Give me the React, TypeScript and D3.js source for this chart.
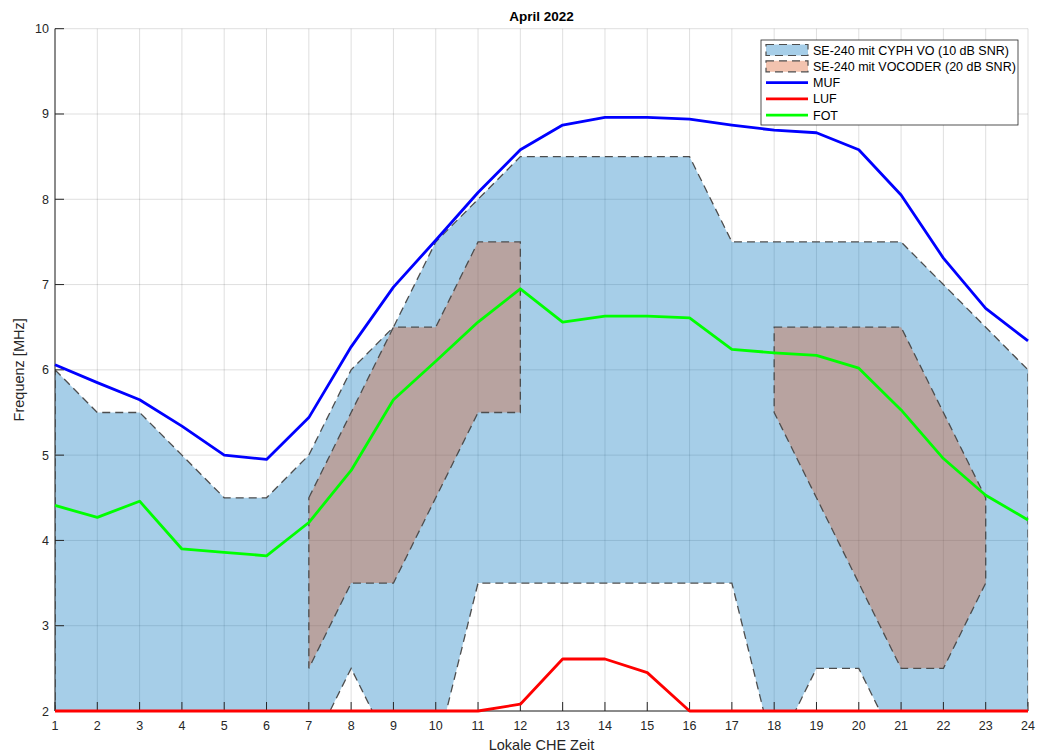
import * as d3 from "d3";

// Stunden (lokale CHE Zeit)
const HOURS = [1, 2, 3, 4, 5, 6, 7, 8, 9, 10, 11, 12, 13, 14, 15, 16, 17, 18, 19, 20, 21, 22, 23, 24];
const Y_TICKS = [2, 3, 4, 5, 6, 7, 8, 9, 10];

// SE-240 mit CYPH VO (10 dB SNR): obere / untere Grenze
const CYPH_UPPER = [6, 5.5, 5.5, 5, 4.5, 4.5, 5, 6, 6.5, 7.5, 8, 8.5, 8.5, 8.5, 8.5, 8.5, 7.5, 7.5, 7.5, 7.5, 7.5, 7, 6.5, 6];
const CYPH_LOWER = [1.5, 1.5, 1.5, 1.5, 1.5, 1.5, 1.5, 2.5, 1.5, 1.5, 3.5, 3.5, 3.5, 3.5, 3.5, 3.5, 3.5, 1.5, 2.5, 2.5, 1.5, 1.5, 1.5, 1.5];

// SE-240 mit VOCODER (20 dB SNR): zwei Bereiche
const VOC1_HOURS = [7, 8, 9, 10, 11, 12];
const VOC1_UPPER = [4.5, 5.5, 6.5, 6.5, 7.5, 7.5];
const VOC1_LOWER = [2.5, 3.5, 3.5, 4.5, 5.5, 5.5];
const VOC2_HOURS = [18, 19, 20, 21, 22, 23];
const VOC2_UPPER = [6.5, 6.5, 6.5, 6.5, 5.5, 4.5];
const VOC2_LOWER = [5.5, 4.5, 3.5, 2.5, 2.5, 3.5];

const MUF = [6.06, 5.85, 5.65, 5.34, 5.0, 4.95, 5.44, 6.27, 6.97, 7.52, 8.08, 8.58, 8.87, 8.96, 8.96, 8.94, 8.87, 8.81, 8.78, 8.58, 8.05, 7.31, 6.72, 6.34];
const LUF = [2, 2, 2, 2, 2, 2, 2, 2, 2, 2, 2, 2.08, 2.61, 2.61, 2.45, 2, 2, 2, 2, 2, 2, 2, 2, 2];
const FOT = [4.41, 4.27, 4.46, 3.9, 3.86, 3.82, 4.21, 4.82, 5.65, 6.1, 6.56, 6.95, 6.56, 6.63, 6.63, 6.61, 6.24, 6.2, 6.17, 6.02, 5.53, 4.96, 4.53, 4.24];

const LINES = [
  { label: "MUF", values: MUF, color: "#0000ff" },
  { label: "LUF", values: LUF, color: "#ff0000" },
  { label: "FOT", values: FOT, color: "#00ff00" },
];

const PATCHES = [
  { label: "SE-240 mit CYPH VO (10 dB SNR)", color: "#0072bd" },
  { label: "SE-240 mit VOCODER (20 dB SNR)", color: "#d95319" },
];

const W = 1038;
const H = 752;
const FONT = "'Liberation Sans', Arial, Helvetica, sans-serif";
const AXIS = "#262626";
const EDGE = "#4d4d4d";

export default function App() {
  const margin = { left: 55, right: 10, top: 28.7, bottom: 41 };
  const x = d3.scaleLinear().domain([1, 24]).range([margin.left, W - margin.right]);
  const y = d3.scaleLinear().domain([2, 10]).range([H - margin.bottom, margin.top]);
  const [x0, x1] = x.range();
  const [yb, yt] = y.range();

  const band = (hours: number[], upper: number[], lower: number[]) => {
    const pts: [number, number][] = [
      ...hours.map((h, i) => [x(h), y(upper[i])] as [number, number]),
      ...hours.map((h, i) => [x(h), y(lower[i])] as [number, number]).reverse(),
    ];
    return (d3.line()(pts) as string) + "Z";
  };

  const line = d3
    .line<number>()
    .x((_, i) => x(HOURS[i]))
    .y((d) => y(d));

  const legendX = 761;
  const legendY = 40;
  const rowH = 16.3;

  return (
    <svg width={W} height={H} style={{ position: "absolute", left: 0, top: 0, background: "#fff" }} fontFamily={FONT}>
      <defs>
        <clipPath id="plot">
          <rect x={x0} y={yt} width={x1 - x0} height={yb - yt} />
        </clipPath>
      </defs>
      <rect width={W} height={H} fill="#fff" />

      {/* grid */}
      <g stroke="#262626" strokeOpacity={0.15} strokeWidth={1}>
        {HOURS.map((h) => (
          <line key={"gx" + h} x1={x(h)} x2={x(h)} y1={yt} y2={yb} />
        ))}
        {Y_TICKS.map((t) => (
          <line key={"gy" + t} x1={x0} x2={x1} y1={y(t)} y2={y(t)} />
        ))}
      </g>

      {/* Bereiche */}
      <g clipPath="url(#plot)" stroke={EDGE} strokeWidth={1.3} strokeDasharray="8,5">
        <path d={band(HOURS, CYPH_UPPER, CYPH_LOWER)} fill={PATCHES[0].color} fillOpacity={0.35} />
        <path d={band(VOC1_HOURS, VOC1_UPPER, VOC1_LOWER)} fill={PATCHES[1].color} fillOpacity={0.35} />
        <path d={band(VOC2_HOURS, VOC2_UPPER, VOC2_LOWER)} fill={PATCHES[1].color} fillOpacity={0.35} />
      </g>

      {/* axes */}
      <g stroke={AXIS} strokeWidth={1}>
        <line x1={x0} x2={x0} y1={yt} y2={yb} />
        <line x1={x0} x2={x1} y1={yb} y2={yb} />
        {HOURS.map((h) => (
          <line key={"tx" + h} x1={x(h)} x2={x(h)} y1={yb} y2={yb - 9} />
        ))}
        {Y_TICKS.map((t) => (
          <line key={"ty" + t} x1={x0} x2={x0 + 9} y1={y(t)} y2={y(t)} />
        ))}
      </g>

      {/* Linien */}
      {LINES.map((s) => (
        <path key={s.label} d={line(s.values) as string} fill="none" stroke={s.color} strokeWidth={2.8} strokeLinejoin="round" />
      ))}

      {/* tick labels */}
      <g fill={AXIS} fontSize={12.5}>
        {HOURS.map((h) => (
          <text key={"lx" + h} x={x(h)} y={yb + 19} textAnchor="middle">
            {h}
          </text>
        ))}
        {Y_TICKS.map((t) => (
          <text key={"ly" + t} x={x0 - 6} y={y(t) + 4.5} textAnchor="end">
            {t}
          </text>
        ))}
      </g>

      <text x={(x0 + x1) / 2} y={21} textAnchor="middle" fontWeight="bold" fontSize={13.5} fill="#000">
        April 2022
      </text>
      <text x={(x0 + x1) / 2} y={750} textAnchor="middle" fontSize={14.5} fill={AXIS}>
        Lokale CHE Zeit
      </text>
      <text
        transform={`translate(24,${(yt + yb) / 2}) rotate(-90)`}
        textAnchor="middle"
        fontSize={14.5}
        fill={AXIS}
      >
        Frequenz [MHz]
      </text>

      {/* legend */}
      <g>
        <rect x={legendX} y={legendY} width={257} height={85} fill="#fff" stroke={AXIS} strokeWidth={0.8} />
        {PATCHES.map((p, i) => (
          <g key={p.label} transform={`translate(${legendX + 5},${legendY + 10 + i * rowH})`}>
            <rect x={0} y={-5.5} width={42} height={11} fill={p.color} fillOpacity={0.35} stroke={EDGE} strokeWidth={1.2} strokeDasharray="8,5" />
            <text x={47} y={4.5} fontSize={12.5} fill="#000">
              {p.label}
            </text>
          </g>
        ))}
        {LINES.map((s, i) => (
          <g key={s.label} transform={`translate(${legendX + 5},${legendY + 10 + (i + 2) * rowH})`}>
            <line x1={0} x2={42} y1={0} y2={0} stroke={s.color} strokeWidth={2.8} />
            <text x={47} y={4.5} fontSize={12.5} fill="#000">
              {s.label}
            </text>
          </g>
        ))}
      </g>
    </svg>
  );
}
